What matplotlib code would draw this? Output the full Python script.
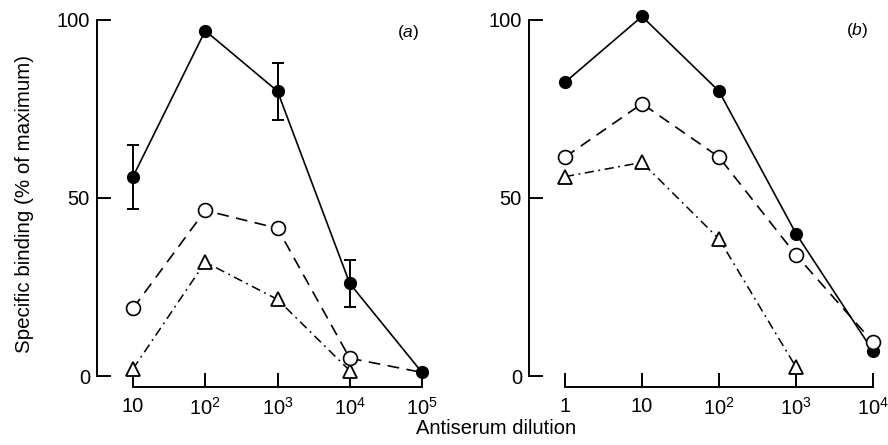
import numpy as np
import matplotlib
matplotlib.use('Agg')
import matplotlib.pyplot as plt

plt.rcParams['font.family'] = ['Liberation Sans', 'DejaVu Sans']
plt.rcParams['mathtext.fontset'] = 'custom'
plt.rcParams['mathtext.rm'] = 'Liberation Sans'
plt.rcParams['mathtext.it'] = 'Liberation Sans:italic'
plt.rcParams['mathtext.default'] = 'regular'

# panel (a)
dil_a = [1e1, 1e2, 1e3, 1e4, 1e5]
a_filled = [56, 97, 80, 26, 1]
a_err = [9, np.nan, 8, 6.5, np.nan]
a_open = [19, 46.5, 41.5, 5, 1]
dil_a_tri = [1e1, 1e2, 1e3, 1e4]
a_tri = [2, 32, 21.5, 1.5]
ticks_a = ['10', '$10^{2}$', '$10^{3}$', '$10^{4}$', '$10^{5}$']

# panel (b)
dil_b = [1, 1e1, 1e2, 1e3, 1e4]
b_filled = [82.5, 101, 80, 40, 7]
b_open = [61.5, 76.5, 61.5, 34, 9.5]
dil_b_tri = [1, 1e1, 1e2, 1e3]
b_tri = [56, 60, 38.5, 2.5]
ticks_b = ['1', '10', '$10^{2}$', '$10^{3}$', '$10^{4}$']

W, H = 888, 445
fig = plt.figure(figsize=(W / 100, H / 100), dpi=100)

def make_axes(x0, x1):
    ax = fig.add_axes([x0 / W, (H - 376) / H, (x1 - x0) / W, (376 - 20) / H])
    ax.set_xscale('log')
    ax.set_ylim(0, 100)
    for s in ['top', 'right']:
        ax.spines[s].set_visible(False)
    ax.spines['left'].set_position(('outward', 26))
    ax.spines['bottom'].set_position(('outward', 8))
    ax.spines['left'].set_linewidth(1.4)
    ax.spines['bottom'].set_linewidth(1.4)
    ax.spines['left'].set_bounds(0, 100)
    ax.set_yticks([0, 50, 100])
    ax.tick_params(axis='both', direction='in', length=10, width=1.4,
                   labelsize=14.5)
    ax.tick_params(axis='x', pad=7)
    ax.tick_params(axis='y', pad=5)
    ax.tick_params(axis='x', which='minor', bottom=False)
    ax.patch.set_alpha(0)
    return ax

def draw(ax, x, filled, opn, xt, tri, open_marks):
    ax.plot(x, filled, color='black', lw=1.2, marker='o', ms=8.5,
            mfc='black', mec='black', clip_on=False, zorder=4)
    ax.plot(x, opn, color='black', lw=1.2, ls=(0, (7, 4.5)), marker='o',
            ms=10, mfc='white', mec='black', mew=1.2, markevery=open_marks,
            clip_on=False, zorder=5)
    ax.plot(xt, tri, color='black', lw=1.1, ls=(0, (6, 3, 1.2, 3)),
            marker='^', ms=10, mfc='white', mec='black', mew=1.3,
            clip_on=False, zorder=3)

ax_a = make_axes(133, 422)
ax_a.set_xlim(dil_a[0], dil_a[-1])
ax_a.spines['bottom'].set_bounds(dil_a[0], dil_a[-1])
ax_a.set_xticks(dil_a)
ax_a.set_xticklabels(ticks_a)
draw(ax_a, dil_a, a_filled, a_open, dil_a_tri, a_tri, [0, 1, 2, 3])
ax_a.errorbar(dil_a, a_filled, yerr=a_err, fmt='none', ecolor='black',
              elinewidth=1.4, capsize=4.5, capthick=1.4, clip_on=False,
              zorder=4)
fig.text(408 / W, 1 - 32 / H, '($\\mathit{a}$)', fontsize=12.5,
         ha='center', va='center')

ax_b = make_axes(565, 873)
ax_b.set_xlim(dil_b[0], dil_b[-1])
ax_b.spines['bottom'].set_bounds(dil_b[0], dil_b[-1])
ax_b.set_xticks(dil_b)
ax_b.set_xticklabels(ticks_b)
draw(ax_b, dil_b, b_filled, b_open, dil_b_tri, b_tri, [0, 1, 2, 3, 4])
fig.text(857 / W, 1 - 30 / H, '($\\mathit{b}$)', fontsize=12.5,
         ha='center', va='center')

fig.text(25 / W, 1 - 204 / H, 'Specific binding (% of maximum)',
         rotation=90, ha='center', va='center', fontsize=14.8)
fig.text(496 / W, 1 - 429 / H, 'Antiserum dilution',
         ha='center', va='center', fontsize=14.5)

fig.savefig('out.png', dpi=100)
